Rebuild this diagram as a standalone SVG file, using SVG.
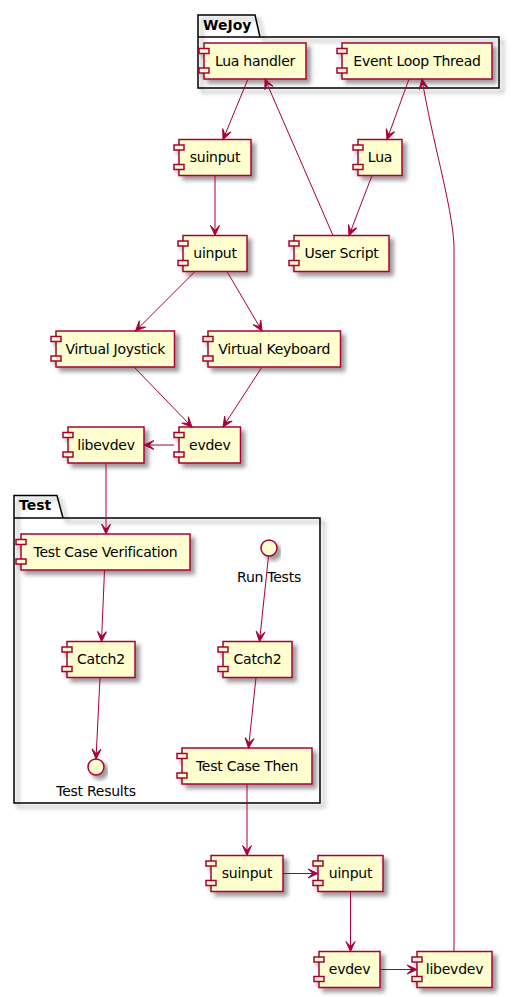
<svg xmlns="http://www.w3.org/2000/svg" width="520" height="997" viewBox="0 0 520 997">
<style>
.c rect{fill:#FEFECE;stroke:#A80036;stroke-width:1.5}
.c circle{fill:#FEFECE;stroke:#A80036;stroke-width:1.5}
.t{font-family:"DejaVu Sans",sans-serif;font-size:14px;letter-spacing:-0.25px;fill:#000;text-anchor:middle}
.pk{fill:none;stroke:#000;stroke-width:1.5}
.pt{font-family:"DejaVu Sans",sans-serif;font-size:14px;font-weight:bold;fill:#000}
#edges path{stroke:#A80036;stroke-width:1;fill:none;marker-end:url(#a)}
</style>
<defs>
<filter id="sh" x="-20%" y="-20%" width="140%" height="160%">
<feGaussianBlur in="SourceAlpha" stdDeviation="2" result="b"/>
<feColorMatrix in="b" type="matrix" values="0 0 0 0 0 0 0 0 0 0 0 0 0 0 0 0 0 0 .4 0" result="c"/>
<feOffset in="c" dx="4" dy="4" result="o"/>
<feMerge><feMergeNode in="o"/><feMergeNode in="SourceGraphic"/></feMerge>
</filter>
<marker id="a" markerWidth="13" markerHeight="12" refX="11" refY="6" orient="auto" markerUnits="userSpaceOnUse">
<path d="M1,1.5 L11,6 L1,10.5 L6,6 Z" fill="#A80036" stroke="#A80036" stroke-width="1" stroke-linejoin="miter"/>
</marker>
</defs>
<rect width="520" height="997" fill="#fff"/>

<g id="pkg-wejoy">
<path class="pk" filter="url(#sh)" d="M198,15 L255,15 L260,37 L499,37 L499,88 L198,88 Z"/>
<line class="pk" x1="198" y1="37" x2="260" y2="37"/>
<text class="pt" x="203" y="30">WeJoy</text>
</g>
<g id="pkg-test">
<path class="pk" filter="url(#sh)" d="M14,495.5 L57,495.5 L63,518 L320,518 L320,803 L14,803 Z"/>
<line class="pk" x1="14" y1="518" x2="63" y2="518"/>
<text class="pt" x="19" y="510">Test</text>
</g>

<g id="lua-handler" class="c"><g filter="url(#sh)"><rect x="204" y="43" width="102" height="36"/><rect x="199" y="48.5" width="10" height="5"/><rect x="199" y="68" width="10" height="5"/></g><text class="t" x="255" y="65.5">Lua handler</text></g>
<g id="event-loop" class="c"><g filter="url(#sh)"><rect x="342" y="43" width="150" height="36"/><rect x="337" y="48.5" width="10" height="5"/><rect x="337" y="68" width="10" height="5"/></g><text class="t" x="417" y="65.5">Event Loop Thread</text></g>
<g id="suinput1" class="c"><g filter="url(#sh)"><rect x="179" y="139.5" width="72" height="36"/><rect x="174" y="145" width="10" height="5"/><rect x="174" y="164.5" width="10" height="5"/></g><text class="t" x="215" y="162">suinput</text></g>
<g id="lua" class="c"><g filter="url(#sh)"><rect x="358" y="139.5" width="44" height="36"/><rect x="353" y="145" width="10" height="5"/><rect x="353" y="164.5" width="10" height="5"/></g><text class="t" x="380" y="162">Lua</text></g>
<g id="uinput1" class="c"><g filter="url(#sh)"><rect x="183" y="235.5" width="64" height="36"/><rect x="178" y="241" width="10" height="5"/><rect x="178" y="260.5" width="10" height="5"/></g><text class="t" x="215" y="258">uinput</text></g>
<g id="user-script" class="c"><g filter="url(#sh)"><rect x="294" y="235.5" width="95" height="36"/><rect x="289" y="241" width="10" height="5"/><rect x="289" y="260.5" width="10" height="5"/></g><text class="t" x="341.5" y="258">User Script</text></g>
<g id="virtual-joystick" class="c"><g filter="url(#sh)"><rect x="56" y="331" width="118.5" height="36"/><rect x="51" y="336.5" width="10" height="5"/><rect x="51" y="356" width="10" height="5"/></g><text class="t" x="115.25" y="353.5">Virtual Joystick</text></g>
<g id="virtual-keyboard" class="c"><g filter="url(#sh)"><rect x="208" y="331" width="132.5" height="36"/><rect x="203" y="336.5" width="10" height="5"/><rect x="203" y="356" width="10" height="5"/></g><text class="t" x="274.25" y="353.5">Virtual Keyboard</text></g>
<g id="libevdev1" class="c"><g filter="url(#sh)"><rect x="68" y="427" width="76" height="36"/><rect x="63" y="432.5" width="10" height="5"/><rect x="63" y="452" width="10" height="5"/></g><text class="t" x="106" y="449.5">libevdev</text></g>
<g id="evdev1" class="c"><g filter="url(#sh)"><rect x="179" y="427" width="61.5" height="36"/><rect x="174" y="432.5" width="10" height="5"/><rect x="174" y="452" width="10" height="5"/></g><text class="t" x="209.75" y="449.5">evdev</text></g>
<g id="test-case-verification" class="c"><g filter="url(#sh)"><rect x="21" y="534" width="169" height="36"/><rect x="16" y="539.5" width="10" height="5"/><rect x="16" y="559" width="10" height="5"/></g><text class="t" x="105.5" y="556.5">Test Case Verification</text></g>
<g id="run-tests" class="c"><circle filter="url(#sh)" cx="269" cy="548" r="8"/><text class="t" x="269" y="581.5">Run Tests</text></g>
<g id="catch2-left" class="c"><g filter="url(#sh)"><rect x="67" y="641.5" width="68" height="36"/><rect x="62" y="647" width="10" height="5"/><rect x="62" y="666.5" width="10" height="5"/></g><text class="t" x="101" y="664">Catch2</text></g>
<g id="catch2-right" class="c"><g filter="url(#sh)"><rect x="223" y="641.5" width="69" height="36"/><rect x="218" y="647" width="10" height="5"/><rect x="218" y="666.5" width="10" height="5"/></g><text class="t" x="257.5" y="664">Catch2</text></g>
<g id="test-results" class="c"><circle filter="url(#sh)" cx="96" cy="767" r="8"/><text class="t" x="96" y="795.5">Test Results</text></g>
<g id="test-case-then" class="c"><g filter="url(#sh)"><rect x="182" y="748" width="130" height="36"/><rect x="177" y="753.5" width="10" height="5"/><rect x="177" y="773" width="10" height="5"/></g><text class="t" x="247" y="770.5">Test Case Then</text></g>
<g id="suinput2" class="c"><g filter="url(#sh)"><rect x="211" y="855.5" width="72" height="36"/><rect x="206" y="861" width="10" height="5"/><rect x="206" y="880.5" width="10" height="5"/></g><text class="t" x="247" y="878">suinput</text></g>
<g id="uinput2" class="c"><g filter="url(#sh)"><rect x="318" y="855.5" width="65" height="36"/><rect x="313" y="861" width="10" height="5"/><rect x="313" y="880.5" width="10" height="5"/></g><text class="t" x="350.5" y="878">uinput</text></g>
<g id="evdev2" class="c"><g filter="url(#sh)"><rect x="319" y="951.5" width="61" height="36"/><rect x="314" y="957" width="10" height="5"/><rect x="314" y="976.5" width="10" height="5"/></g><text class="t" x="349.5" y="974">evdev</text></g>
<g id="libevdev2" class="c"><g filter="url(#sh)"><rect x="417" y="951.5" width="75" height="36"/><rect x="412" y="957" width="10" height="5"/><rect x="412" y="976.5" width="10" height="5"/></g><text class="t" x="454.5" y="974">libevdev</text></g>

<g id="edges">
<path d="M248,79 L223,139.5"/>
<path d="M333,235.5 L265,79"/>
<path d="M409,79 L387,139.5"/>
<path d="M454,951.5 L454,245 C452,205 432,140 422,79"/>
<path d="M372,175.5 L349,235.5"/>
<path d="M215,175.5 L215,235.5"/>
<path d="M195,271.5 L135.5,331"/>
<path d="M227,271.5 L262,331"/>
<path d="M134,367 L192,427"/>
<path d="M262,367 L223,427"/>
<path d="M174,445 L144,445"/>
<path d="M106,463 L106,534"/>
<path d="M104.5,570 L101.5,641.5"/>
<path d="M100,677.5 L96,759"/>
<path d="M268.5,556 L259.5,641.5"/>
<path d="M256,677.5 L248.5,748"/>
<path d="M247,784 L247,855.5"/>
<path d="M283,873.5 L318,873.5"/>
<path d="M350.5,891.5 L350.5,951.5"/>
<path d="M380,969.5 L417,969.5"/>
</g>
</svg>
